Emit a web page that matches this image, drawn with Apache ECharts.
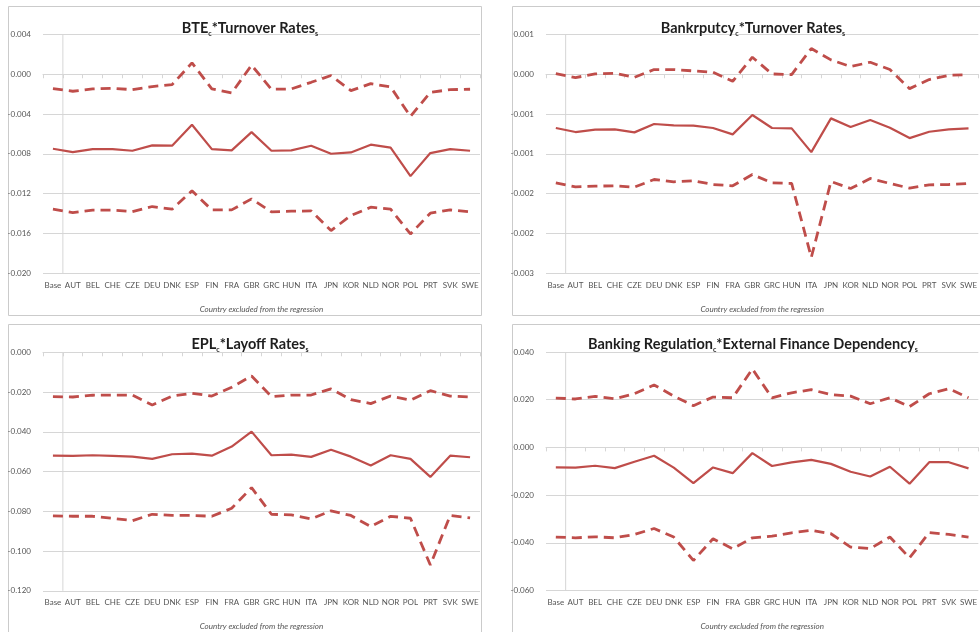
<!DOCTYPE html>
<html>
<head>
<meta charset="utf-8">
<script src="https://cdn.jsdelivr.net/npm/echarts@6/dist/echarts.min.js"></script>
<style>
  html, body { margin: 0; padding: 0; background: #ffffff; }
  #chart { width: 980px; height: 632px; }
</style>
</head>
<body>
<div id="chart"></div>
<script>
// Country dropped from the sample in each re-estimation
const categories = ['Base','AUT','BEL','CHE','CZE','DEU','DNK','ESP','FIN','FRA','GBR','GRC','HUN','ITA','JPN','KOR','NLD','NOR','POL','PRT','SVK','SWE'];

// BTE x Turnover rates: point estimate and confidence bounds
const bteCoef  = [-0.00750,-0.00783,-0.00753,-0.00753,-0.00770,-0.00716,-0.00719,-0.00508,-0.00753,-0.00766,-0.00582,-0.00770,-0.00766,-0.00719,-0.00800,-0.00787,-0.00709,-0.00739,-0.01025,-0.00793,-0.00753,-0.00770];
const bteUpper = [-0.00145,-0.00171,-0.00148,-0.00141,-0.00155,-0.00124,-0.00104,0.00114,-0.00148,-0.00188,0.00091,-0.00151,-0.00148,-0.00081,-0.00013,-0.00165,-0.00094,-0.00128,-0.00424,-0.00182,-0.00155,-0.00151];
const bteLower = [-0.01358,-0.01392,-0.01368,-0.01368,-0.01382,-0.01331,-0.01358,-0.01173,-0.01365,-0.01365,-0.01254,-0.01385,-0.01378,-0.01375,-0.01573,-0.01422,-0.01338,-0.01358,-0.01607,-0.01398,-0.01365,-0.01385];
const bteTicks = ['-0.020','-0.016','-0.012','-0.008','-0.004','0.000','0.004'];

// Bankruptcy x Turnover rates
const bkrCoef  = [-0.000676,-0.000727,-0.000697,-0.000693,-0.000731,-0.000626,-0.000643,-0.000647,-0.000676,-0.000756,-0.000513,-0.000676,-0.000681,-0.000979,-0.000555,-0.000664,-0.000576,-0.000672,-0.000803,-0.000723,-0.000693,-0.000681];
const bkrUpper = [0.000008,-0.000042,0.000004,0.000013,-0.000038,0.000059,0.000059,0.000042,0.000025,-0.000088,0.000214,0.000004,-0.000004,0.000324,0.000181,0.000097,0.000151,0.000059,-0.000181,-0.000067,-0.000013,-0.000004];
const bkrLower = [-0.001366,-0.001416,-0.001408,-0.001403,-0.001420,-0.001324,-0.001353,-0.001340,-0.001387,-0.001403,-0.001261,-0.001366,-0.001374,-0.002303,-0.001349,-0.001437,-0.001311,-0.001374,-0.001433,-0.001391,-0.001387,-0.001374];
const bkrTicks = ['-0.003','-0.002','-0.002','-0.001','-0.001','0.000','0.001'];

// EPL x Layoff rates
const eplCoef  = [-0.0520,-0.0521,-0.0518,-0.0521,-0.0525,-0.0536,-0.0513,-0.0510,-0.0520,-0.0474,-0.0399,-0.0518,-0.0515,-0.0526,-0.0490,-0.0525,-0.0570,-0.0518,-0.0536,-0.0627,-0.0520,-0.0528];
const eplUpper = [-0.0223,-0.0225,-0.0216,-0.0215,-0.0215,-0.0265,-0.0220,-0.0206,-0.0220,-0.0176,-0.0119,-0.0223,-0.0215,-0.0215,-0.0184,-0.0238,-0.0258,-0.0220,-0.0241,-0.0193,-0.0220,-0.0225];
const eplLower = [-0.0823,-0.0825,-0.0825,-0.0835,-0.0847,-0.0815,-0.0821,-0.0821,-0.0825,-0.0785,-0.0681,-0.0815,-0.0818,-0.0838,-0.0798,-0.0821,-0.0877,-0.0825,-0.0835,-0.1070,-0.0821,-0.0833];
const eplTicks = ['-0.120','-0.100','-0.080','-0.060','-0.040','-0.020','0.000'];

// Banking regulation x External finance dependency
const bregCoef  = [-0.0084,-0.0085,-0.0077,-0.0087,-0.0060,-0.0035,-0.0085,-0.0150,-0.0084,-0.0108,-0.0024,-0.0078,-0.0063,-0.0052,-0.0069,-0.0102,-0.0122,-0.0081,-0.0152,-0.0062,-0.0062,-0.0088];
const bregUpper = [0.0207,0.0203,0.0214,0.0204,0.0225,0.0262,0.0215,0.0175,0.0211,0.0208,0.0329,0.0208,0.0229,0.0242,0.0221,0.0215,0.0183,0.0208,0.0171,0.0225,0.0246,0.0208];
const bregLower = [-0.0376,-0.0379,-0.0375,-0.0379,-0.0365,-0.0340,-0.0376,-0.0474,-0.0383,-0.0425,-0.0379,-0.0372,-0.0358,-0.0348,-0.0362,-0.0418,-0.0424,-0.0376,-0.0463,-0.0357,-0.0365,-0.0376];
const bregTicks = ['-0.060','-0.040','-0.020','0.000','0.020','0.040'];

const titles = [
  'BTE{sub|c}*Turnover Rates{sub|s}',
  'Bankrputcy{sub|c}*Turnover Rates{sub|s}',
  'EPL{sub|c}*Layoff Rates{sub|s}',
  'Banking Regulation{sub|c}*External Finance Dependency{sub|s}'
];
const xAxisTitle = 'Country excluded from the regression';

const FONT = 'Lato, "Open Sans", sans-serif';
const RED = '#BF4D4A';
const GRID_GRAY = '#D6D6D6';
const LABEL_GRAY = '#555555';

const panels = [
  { coef: bteCoef,  upper: bteUpper,  lower: bteLower,  ticks: bteTicks,  min: -0.020,  max: 0.004,  step: 0.004,
    grid: { left: 43,  top: 34.5, width: 437, height: 238.5 }, frame: [8, 6, 473, 309],   titleX: 245, titleY: 14 },
  { coef: bkrCoef,  upper: bkrUpper,  lower: bkrLower,  ticks: bkrTicks,  min: -0.0025, max: 0.0005, step: 0.0005,
    grid: { left: 546, top: 34.5, width: 438, height: 238.5 }, frame: [512, 6, 480, 309], titleX: 748, titleY: 14 },
  { coef: eplCoef,  upper: eplUpper,  lower: eplLower,  ticks: eplTicks,  min: -0.12,   max: 0,      step: 0.02,
    grid: { left: 43,  top: 352.3, width: 437, height: 238.5 }, frame: [8, 324, 473, 320], titleX: 245, titleY: 330 },
  { coef: bregCoef, upper: bregUpper, lower: bregLower, ticks: bregTicks, min: -0.06,   max: 0.04,   step: 0.02,
    grid: { left: 546, top: 352, width: 438, height: 238.5 }, frame: [512, 324, 480, 320], titleX: 748, titleY: 330 }
];

const option = {
  backgroundColor: '#ffffff',
  animation: false,
  title: [], grid: [], xAxis: [], yAxis: [], series: [], graphic: []
};

panels.forEach((p, i) => {
  // chart-area frame around each panel
  option.graphic.push({
    type: 'rect', silent: true, z: -10,
    shape: { x: p.frame[0] + 0.5, y: p.frame[1] + 0.5, width: p.frame[2], height: p.frame[3] },
    style: { fill: '#ffffff', stroke: '#CBCBCB', lineWidth: 1 }
  });

  option.title.push({
    text: titles[i],
    left: p.titleX, top: p.titleY, textAlign: 'center',
    textStyle: {
      fontFamily: FONT, fontSize: 14.5, fontWeight: 'bold', color: '#1E1E1E', lineHeight: 18,
      rich: { sub: { fontFamily: FONT, fontSize: 7, fontWeight: 'bold', color: '#1E1E1E', verticalAlign: 'bottom', lineHeight: 10 } }
    }
  });

  option.grid.push(Object.assign({ containLabel: false }, p.grid));

  // category axis: ticks fall between countries
  option.xAxis.push({
    type: 'category', gridIndex: i, data: categories, boundaryGap: true,
    axisLine: { show: true, lineStyle: { color: GRID_GRAY, width: 1 } },
    axisTick: { show: true, length: 4, lineStyle: { color: GRID_GRAY } },
    axisLabel: { interval: 0, margin: 8, fontFamily: FONT, fontSize: 8, color: LABEL_GRAY },
    name: xAxisTitle, nameLocation: 'middle', nameGap: 32,
    nameTextStyle: { fontFamily: FONT, fontSize: 8, fontStyle: 'italic', color: LABEL_GRAY }
  });
  // helper value axis used to place the vertical axis line between Base and AUT
  option.xAxis.push({
    type: 'value', gridIndex: i, min: -0.5, max: categories.length - 0.5, show: false
  });

  const ticks = p.ticks;
  option.yAxis.push({
    type: 'value', gridIndex: i, min: p.min, max: p.max, interval: p.step,
    axisLine: { show: false }, axisTick: { show: false },
    splitLine: { show: true, lineStyle: { color: GRID_GRAY, width: 1 } },
    axisLabel: { margin: 12, fontFamily: FONT, fontSize: 8, color: LABEL_GRAY,
      formatter: (v, idx) => ticks[idx] }
  });

  const xCat = i * 2, xVal = i * 2 + 1;
  option.series.push({
    type: 'line', xAxisIndex: xVal, yAxisIndex: i, silent: true, symbol: 'none', z: 1,
    lineStyle: { color: GRID_GRAY, width: 1 },
    data: [[0.5, p.min], [0.5, p.max]]
  });
  option.series.push({
    type: 'line', xAxisIndex: xCat, yAxisIndex: i, data: p.upper, symbol: 'none',
    lineStyle: { color: RED, width: 2.8, type: [10, 6] }
  });
  option.series.push({
    type: 'line', xAxisIndex: xCat, yAxisIndex: i, data: p.coef, symbol: 'none',
    lineStyle: { color: RED, width: 2.2 }
  });
  option.series.push({
    type: 'line', xAxisIndex: xCat, yAxisIndex: i, data: p.lower, symbol: 'none',
    lineStyle: { color: RED, width: 2.8, type: [10, 6] }
  });
});

const chart = echarts.init(document.getElementById('chart'), null, { renderer: 'canvas' });
chart.setOption(option);
</script>
</body>
</html>
